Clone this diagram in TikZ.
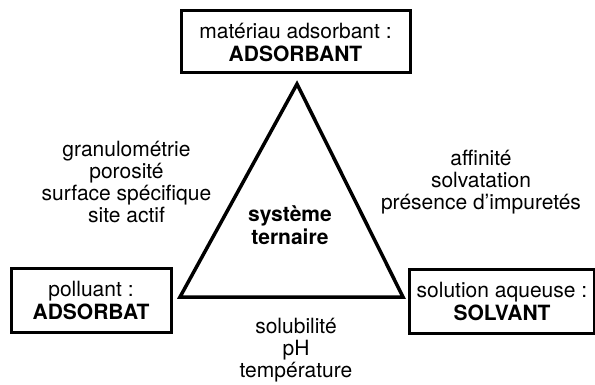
\documentclass[tikz,border=0pt]{standalone}
\usepackage{fontspec}
\setmainfont{TeX Gyre Heros}
\begin{document}
\begin{tikzpicture}[x=1pt,y=-1pt,
  txt/.style={align=center,inner sep=0pt,font=\fontsize{21}{22}\selectfont},
  boxnode/.style={draw,line width=3pt,align=center,inner sep=0pt,font=\fontsize{21}{23}\selectfont}]
\useasboundingbox (0,0) rectangle (595,385);
\node[boxnode,minimum width=229pt,minimum height=62pt] (top) at (295.5,42) {matériau adsorbant :\\\textbf{ADSORBANT}};
\node[boxnode,minimum width=160pt,minimum height=64pt] (left) at (91,300) {polluant :\\\textbf{ADSORBAT}};
\node[boxnode,minimum width=185pt,minimum height=64pt] (right) at (502,301) {solution aqueuse :\\\textbf{SOLVANT}};
\coordinate (A) at (297,84);
\coordinate (L) at (180,297);
\coordinate (R) at (403,297);
\draw[line width=3.5pt,line join=miter] (A) -- (L) -- (R) -- cycle;
\node[txt,font=\fontsize{21}{23}\selectfont\bfseries] (center) at (290,225) {système\\ternaire};
\node[txt] (ltxt) at (126.5,182) {granulométrie\\porosité\\surface spécifique\\site actif};
\node[txt] (rtxt) at (481,182) {affinité\\solvatation\\présence d’impuretés};
\node[txt] (btxt) at (296,350) {solubilité\\pH\\température};
\end{tikzpicture}
\end{document}
